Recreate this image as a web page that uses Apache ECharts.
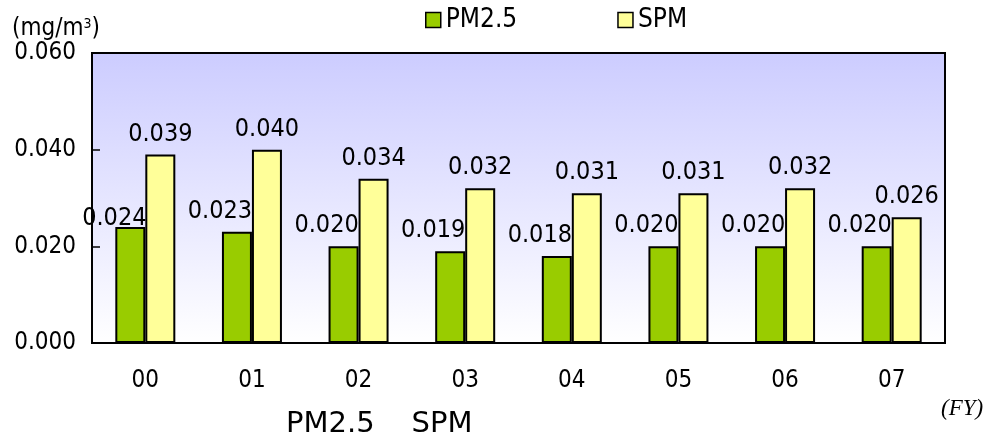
<!DOCTYPE html>
<html>
<head>
<meta charset="utf-8">
<script src="https://cdn.jsdelivr.net/npm/echarts@6/dist/echarts.min.js"></script>
<style>
  html, body { margin: 0; padding: 0; background: #fff; }
  #chart { width: 987px; height: 438px; }
</style>
</head>
<body>
<div id="chart"></div>
<script>
// Fiscal years (2000–2007)
const years = ['00', '01', '02', '03', '04', '05', '06', '07'];
// Annual mean concentrations, mg/m3
const pm25 = [0.024, 0.023, 0.020, 0.019, 0.018, 0.020, 0.020, 0.020];
const spm = [0.039, 0.040, 0.034, 0.032, 0.031, 0.031, 0.032, 0.026];
const seriesNames = ['PM2.5', 'SPM'];
const yTicks = [0, 0.02, 0.04, 0.06];

const FONT = '"DejaVu Sans Condensed", "DejaVu Sans"';

const chart = echarts.init(document.getElementById('chart'));

const labelBase = {
  show: true,
  position: 'top',
  distance: 8,
  color: '#000',
  fontFamily: FONT,
  fontSize: 25,
  formatter: p => p.value.toFixed(3)
};

chart.setOption({
  animation: false,
  title: [
    {
      text: 'PM2.5    SPM',
      left: 281,
      top: 405,
      textStyle: { fontFamily: 'DejaVu Sans', fontSize: 29, fontWeight: 'normal', color: '#000' }
    },
    {
      text: '(FY)',
      left: 936,
      top: 392,
      textStyle: { fontFamily: 'Liberation Serif', fontStyle: 'italic', fontSize: 23, fontWeight: 'normal', color: '#000' }
    }
  ],
  legend: {
    data: seriesNames,
    left: 420,
    top: 2,
    itemGap: 100,
    itemWidth: 15,
    itemHeight: 15,
    icon: 'rect',
    itemStyle: { borderColor: '#000', borderWidth: 1.5 },
    textStyle: { fontFamily: FONT, fontSize: 26, color: '#000' }
  },
  grid: {
    left: 92,
    top: 53,
    right: 42,
    bottom: 95,
    show: true,
    borderColor: '#000',
    borderWidth: 2,
    backgroundColor: new echarts.graphic.LinearGradient(0, 0, 0, 1, [
      { offset: 0, color: '#ccccff' },
      { offset: 1, color: '#ffffff' }
    ])
  },
  xAxis: {
    type: 'category',
    data: years,
    axisLine: { lineStyle: { color: '#000', width: 2 } },
    axisTick: { inside: true, length: 8, lineStyle: { color: '#000', width: 1.5 } },
    axisLabel: { fontFamily: FONT, fontSize: 24, color: '#000', margin: 26 }
  },
  yAxis: {
    type: 'value',
    min: yTicks[0],
    max: yTicks[yTicks.length - 1],
    interval: yTicks[1] - yTicks[0],
    name: '(mg/m{sup|3})',
    nameLocation: 'end',
    nameGap: 10,
    nameTextStyle: {
      fontFamily: FONT, fontSize: 24, color: '#000', align: 'left', padding: [0, 0, 0, -80],
      rich: { sup: { fontFamily: FONT, fontSize: 14, color: '#000', verticalAlign: 'top', padding: [0, 0, 10, 0] } }
    },
    splitLine: { show: false },
    axisLine: { show: true, lineStyle: { color: '#000', width: 2 } },
    axisTick: { show: true, inside: true, length: 8, lineStyle: { color: '#000', width: 1.5 } },
    axisLabel: {
      fontFamily: FONT, fontSize: 24, color: '#000', margin: 16,
      formatter: v => v.toFixed(3)
    }
  },
  series: [
    {
      name: seriesNames[0],
      type: 'bar',
      barWidth: 30,
      barGap: '0%',
      data: pm25.map((v, i) => i === 0
        ? { value: v, label: { offset: [-16, 12] } }
        : v),
      itemStyle: { color: '#99cc00', borderColor: '#000', borderWidth: 2 },
      label: Object.assign({}, labelBase, { offset: [-17, 0] })
    },
    {
      name: seriesNames[1],
      type: 'bar',
      barWidth: 30,
      data: spm,
      itemStyle: { color: '#ffff99', borderColor: '#000', borderWidth: 2 },
      label: labelBase
    }
  ]
});
</script>
</body>
</html>
